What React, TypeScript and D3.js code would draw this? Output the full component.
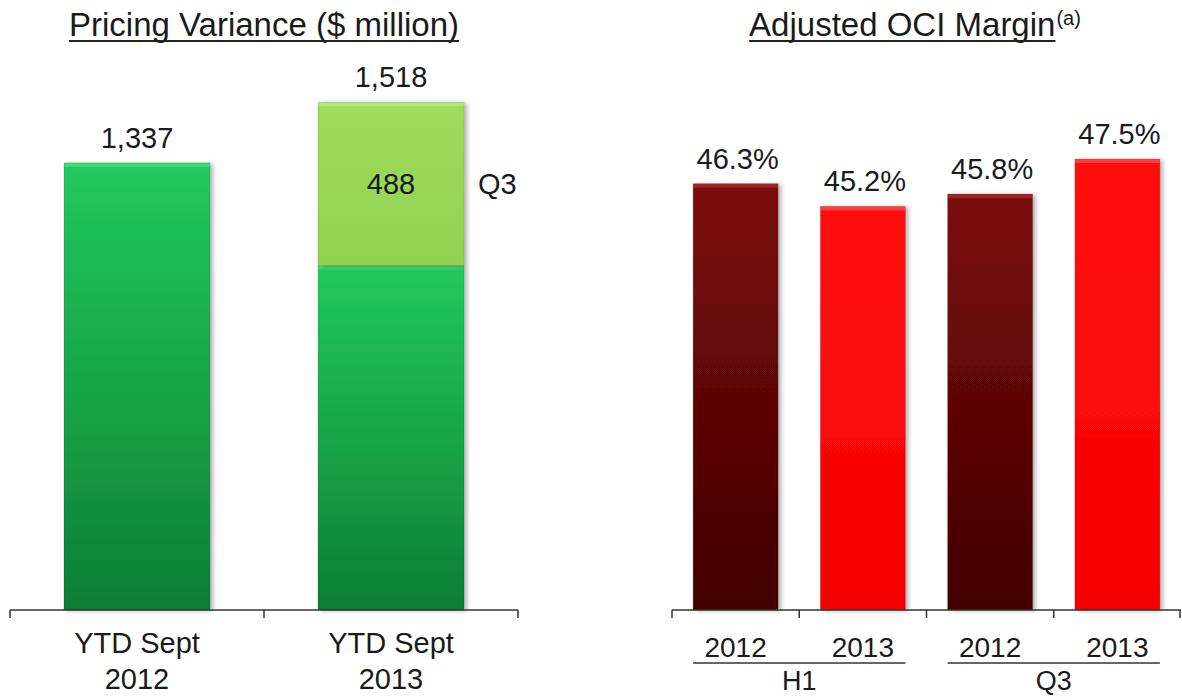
import React, { useEffect, useRef } from "react";
import * as d3 from "d3";

// ---------- data ----------
const pvCategories = ["YTD Sept 2012", "YTD Sept 2013"];
const pvLine1 = ["YTD Sept", "YTD Sept"];
const pvLine2 = ["2012", "2013"];
const pvTotals = [1337, 1518];
const pvQ3 = [0, 488];
const pvTotalLabels = ["1,337", "1,518"];
const pvQ3Labels = ["", "488"];

const ociCategories = ["H1 2012", "H1 2013", "Q3 2012", "Q3 2013"];
const ociYears = ["2012", "2013", "2012", "2013"];
const ociGroups = ["H1", "H1", "Q3", "Q3"];
const ociValues = [46.3, 45.2, 45.8, 47.5];
const ociLabels = ["46.3%", "45.2%", "45.8%", "47.5%"];

const FONT = "'Liberation Sans', Arial, Helvetica, sans-serif";
const TEXT = "#1a1a1a";
const AXIS = "#333";

export default function App() {
  const ref = useRef<SVGSVGElement>(null);

  useEffect(() => {
    const svg = d3.select(ref.current);
    svg.selectAll("*").remove();
    const defs = svg.append("defs");

    const grad = (id: string, stops: [number, string][]) => {
      const g = defs
        .append("linearGradient")
        .attr("id", id)
        .attr("x1", 0)
        .attr("y1", 0)
        .attr("x2", 0)
        .attr("y2", 1);
      stops.forEach(([o, c]) => g.append("stop").attr("offset", o).attr("stop-color", c));
    };
    grad("gGreen", [[0, "#22c95c"], [0.5, "#17a548"], [1, "#0c7d35"]]);
    grad("gLight", [[0, "#a0dc5e"], [1, "#92d152"]]);
    grad("gDark", [[0, "#7e0b0b"], [0.5, "#5e0606"], [1, "#420404"]]);
    grad("gRed", [[0, "#ff1010"], [1, "#f50000"]]);

    const f = defs.append("filter").attr("id", "shadow").attr("x", "-10%").attr("y", "-10%").attr("width", "130%").attr("height", "130%");
    f.append("feDropShadow").attr("dx", 3).attr("dy", 1).attr("stdDeviation", 2).attr("flood-color", "#000").attr("flood-opacity", 0.3);

    const bevelBar = (
      g: d3.Selection<SVGGElement, unknown, null, undefined>,
      x: number,
      y: number,
      w: number,
      h: number,
      fill: string,
      hi: string
    ) => {
      g.append("rect").attr("x", x).attr("y", y).attr("width", w).attr("height", h).attr("fill", fill).attr("filter", "url(#shadow)");
      g.append("rect").attr("x", x).attr("y", y).attr("width", w).attr("height", Math.min(4, h)).attr("fill", hi).attr("opacity", 0.35);
      g.append("rect").attr("x", x).attr("y", y).attr("width", w).attr("height", h).attr("fill", "none").attr("stroke", "#000").attr("stroke-opacity", 0.12).attr("stroke-width", 1);
    };

    const txt = (x: number, y: number, s: string, size: number, anchor = "middle") =>
      svg
        .append("text")
        .attr("x", x)
        .attr("y", y)
        .attr("text-anchor", anchor)
        .attr("font-family", FONT)
        .attr("font-size", size)
        .attr("fill", TEXT)
        .text(s);

    // ---------- Left chart: Pricing Variance ----------
    const xL = d3.scaleBand<string>().domain(pvCategories).range([10, 518]).padding(0);
    const yL = d3.scaleLinear().domain([0, 1800]).range([610, 8]);
    const bwL = xL.bandwidth() * 0.575;
    const gL = svg.append("g");

    pvCategories.forEach((c, i) => {
      const bx = (xL(c) as number) + (xL.bandwidth() - bwL) / 2;
      const base = pvTotals[i] - pvQ3[i];
      bevelBar(gL, bx, yL(base), bwL, yL(0) - yL(base), "url(#gGreen)", "#6dff9a");
      if (pvQ3[i] > 0) {
        bevelBar(gL, bx, yL(pvTotals[i]), bwL, yL(base) - yL(pvTotals[i]), "url(#gLight)", "#d8ff9e");
        const my = (yL(pvTotals[i]) + yL(base)) / 2;
        txt(bx + bwL / 2, my + 10.5, pvQ3Labels[i], 29);
        txt(bx + bwL + 14, my + 10.5, "Q3", 29, "start");
      }
      txt(bx + bwL / 2, yL(pvTotals[i]) - 15, pvTotalLabels[i], 29);
      const cx = (xL(c) as number) + xL.bandwidth() / 2;
      txt(cx, 653, pvLine1[i], 29);
      txt(cx, 689, pvLine2[i], 29);
    });

    // axis
    const [l0, l1] = xL.range();
    svg.append("line").attr("x1", l0).attr("x2", l1).attr("y1", yL(0)).attr("y2", yL(0)).attr("stroke", AXIS).attr("stroke-width", 1.5);
    const ticksL = pvCategories.map((c) => xL(c) as number).concat([l1]);
    ticksL.forEach((t) =>
      svg.append("line").attr("x1", t).attr("x2", t).attr("y1", yL(0)).attr("y2", yL(0) + 8).attr("stroke", AXIS).attr("stroke-width", 1.5)
    );

    // title
    const tL = txt((l0 + l1) / 2, 36, "Pricing Variance ($ million)", 33);
    const wL = (tL.node() as SVGTextElement).getComputedTextLength();
    svg.append("line").attr("x1", (l0 + l1) / 2 - wL / 2).attr("x2", (l0 + l1) / 2 + wL / 2).attr("y1", 41).attr("y2", 41).attr("stroke", "#222").attr("stroke-width", 2);

    // ---------- Right chart: Adjusted OCI Margin ----------
    const xR = d3.scaleBand<string>().domain(ociCategories).range([672, 1181]).padding(0);
    const yR = d3.scaleLinear().domain([25.6, 47.5]).range([610, 159]);
    const bwR = xR.bandwidth() * 0.668;
    const gR = svg.append("g");
    const barLeft: number[] = [];
    ociCategories.forEach((c, i) => {
      const bx = (xR(c) as number) + (xR.bandwidth() - bwR) / 2;
      barLeft.push(bx);
      const dark = ociYears[i] === "2012";
      bevelBar(gR, bx, yR(ociValues[i]), bwR, yR.range()[0] - yR(ociValues[i]), dark ? "url(#gDark)" : "url(#gRed)", dark ? "#d65a5a" : "#ff9a9a");
      txt(bx + bwR / 2 + 2, yR(ociValues[i]) - 15, ociLabels[i], 29);
      txt((xR(c) as number) + xR.bandwidth() / 2, 657, ociYears[i], 28);
    });

    const [r0, r1] = xR.range();
    const baseR = yR.range()[0];
    svg.append("line").attr("x1", r0).attr("x2", r1).attr("y1", baseR).attr("y2", baseR).attr("stroke", AXIS).attr("stroke-width", 1.5);
    const ticksR = ociCategories.map((c) => xR(c) as number).concat([r1 - 1]);
    ticksR.forEach((t) =>
      svg.append("line").attr("x1", t).attr("x2", t).attr("y1", baseR).attr("y2", baseR + 8).attr("stroke", AXIS).attr("stroke-width", 1.5)
    );

    // group labels with underline spanning the group's bars
    const groups = Array.from(new Set(ociGroups));
    groups.forEach((gname) => {
      const idx = ociGroups.map((g, i) => (g === gname ? i : -1)).filter((i) => i >= 0);
      const x0 = barLeft[idx[0]];
      const x1 = barLeft[idx[idx.length - 1]] + bwR;
      svg.append("line").attr("x1", x0).attr("x2", x1).attr("y1", 663).attr("y2", 663).attr("stroke", "#333").attr("stroke-width", 1.5);
      txt((x0 + x1) / 2, 690, gname, 27);
    });

    // title with superscript
    const tR = svg
      .append("text")
      .attr("x", 0)
      .attr("y", 36)
      .attr("font-family", FONT)
      .attr("font-size", 33)
      .attr("fill", TEXT);
    const main = tR.append("tspan").text("Adjusted OCI Margin");
    tR.append("tspan").attr("font-size", 20).attr("dy", -11).attr("dx", 1).text("(a)");
    const mainW = (main.node() as SVGTSpanElement).getComputedTextLength();
    const totalW = (tR.node() as SVGTextElement).getComputedTextLength();
    const startX = (r0 + r1) / 2 - 12 - totalW / 2;
    tR.attr("x", startX);
    svg.append("line").attr("x1", startX).attr("x2", startX + mainW).attr("y1", 41).attr("y2", 41).attr("stroke", "#222").attr("stroke-width", 2);
  }, []);

  return (
    <div style={{ position: "absolute", left: 0, top: 0 }}>
      <svg ref={ref} width={1182} height={700} style={{ display: "block", background: "#fff" }} />
    </div>
  );
}
